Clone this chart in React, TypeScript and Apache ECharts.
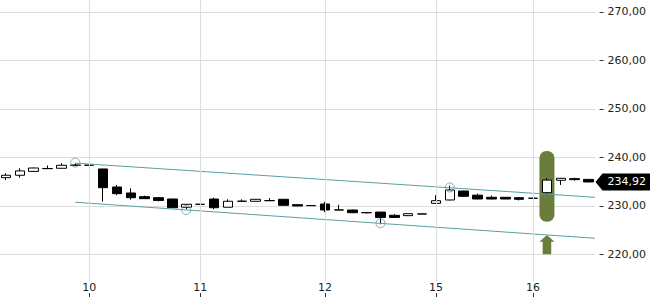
import React, { useEffect, useRef } from "react";
import * as echarts from "echarts";

const categories = [
  "09 12:00", "09 13:00", "09 14:00", "09 15:00", "09 16:00", "09 17:00",
  "10 09:00", "10 10:00", "10 11:00", "10 12:00", "10 13:00", "10 14:00", "10 15:00", "10 16:00",
  "11 09:00", "11 10:00", "11 11:00", "11 12:00", "11 13:00", "11 14:00", "11 15:00", "11 16:00", "11 17:00",
  "12 09:00", "12 10:00", "12 11:00", "12 12:00", "12 13:00", "12 14:00", "12 15:00", "12 16:00",
  "15 09:00", "15 10:00", "15 11:00", "15 12:00", "15 13:00", "15 14:00", "15 15:00",
  "16 09:00", "16 10:00", "16 11:00", "16 12:00", "16 13:00",
];

const opens = [235.8, 236.3, 237.1, 237.66, 237.74, 238.36, 238.36, 237.6, 233.88, 232.64, 231.88, 231.67, 231.4, 229.7, 230.3, 231.4, 229.7, 230.93, 230.93, 231.05, 231.34, 230.23, 230.03, 230.37, 229.13, 229.13, 228.57, 228.7, 228.04, 227.96, 228.3, 230.5, 231.2, 233.05, 232.2, 231.75, 231.75, 231.67, 231.55, 232.7, 235.26, 235.6, 235.45];
const closes = [236.3, 237.2, 237.8, 237.7, 238.36, 238.4, 238.38, 233.74, 232.5, 231.67, 231.47, 231.1, 229.6, 230.31, 230.32, 229.6, 230.93, 230.95, 231.34, 231.07, 230.1, 229.96, 230.05, 229.13, 229.15, 228.57, 228.59, 227.6, 227.6, 228.37, 228.32, 231.05, 233.26, 231.96, 231.4, 231.4, 231.4, 231.34, 231.57, 235.3, 235.67, 235.4, 234.92];
const lows = [235.3, 235.8, 237.0, 237.6, 237.7, 238.3, 238.3, 230.85, 232.2, 231.26, 231.4, 230.9, 229.5, 229.3, 230.28, 229.3, 229.7, 230.9, 230.9, 231.0, 230.05, 229.9, 230.0, 228.7, 229.1, 228.5, 228.4, 226.2, 227.55, 227.9, 228.28, 230.45, 231.1, 231.9, 231.35, 231.35, 231.35, 231.1, 231.5, 232.35, 234.3, 235.2, 234.85];
const highs = [236.7, 237.74, 237.9, 238.3, 238.8, 238.8, 238.42, 237.6, 234.3, 233.6, 232.1, 231.8, 231.45, 230.35, 230.35, 231.67, 231.34, 231.34, 231.4, 231.6, 231.4, 230.3, 230.08, 230.8, 230.23, 229.2, 228.7, 228.75, 228.3, 228.4, 228.35, 232.17, 234.15, 233.1, 232.5, 232.1, 231.8, 231.7, 231.6, 235.7, 235.75, 235.8, 235.5];

const upperTrend = [[5, 238.8], [42.46, 231.75]];
const lowerTrend = [[5, 230.73], [42.46, 223.3]];
const touchPoints = [[5, 238.92], [13, 229.14], [27, 226.4], [32, 233.78]];

// highlight: [index, rectTop, rectBottom, arrowTip, arrowHeadBase, arrowBottom]
const highlight = [[39, 241.3, 226.7, 223.97, 222.6, 220.0]];

const yMin = 210;
const yMax = 280;
const yStep = 10;
const gridTopValue = 280;
const gridBottomValue = 214.33;

const TEAL = "#5c9fa1";
const OLIVE = "#6a7d3a";
const GRID = "#dddddd";
const FONT = "DejaVu Sans";

const dayOf = (c: string) => c.slice(0, 2);
const isDayStart = (i: number) => i > 0 && dayOf(categories[i]) !== dayOf(categories[i - 1]);
const fmt = (v: number) => v.toFixed(2).replace(".", ",");

export default function App() {
  const ref = useRef<HTMLDivElement>(null);
  useEffect(() => {
    document.body.style.margin = "0";
    if (!ref.current) return;
    const chart = echarts.init(ref.current, undefined, { renderer: "svg" });
    const dayStarts = categories.map((_, i) => i).filter(isDayStart);
    const lastClose = closes[closes.length - 1];
    const n = categories.length;

    chart.setOption({
      animation: false,
      textStyle: { fontFamily: FONT },
      grid: {
        left: -1,
        right: 54.5,
        top: -36.5,
        bottom: -2.7,
        containLabel: false,
        outerBoundsMode: "none",
      },
      xAxis: [
        {
          type: "category",
          data: categories,
          boundaryGap: true,
          offset: -5.7,
          axisLine: { show: false, onZero: false },
          axisTick: {
            show: true,
            inside: true,
            length: 4,
            alignWithLabel: true,
            interval: (i: number) => isDayStart(i),
            lineStyle: { color: "#333", width: 1 },
          },
          axisLabel: {
            inside: true,
            margin: 4,
            interval: (i: number) => isDayStart(i),
            formatter: (v: string) => String(parseInt(dayOf(v), 10)),
            color: "#222",
            fontSize: 11,
            fontFamily: FONT,
          },
          splitLine: { show: false },
        },
        {
          type: "value",
          min: -0.5,
          max: n - 0.5,
          show: false,
          axisLine: { onZero: false },
        },
      ],
      yAxis: {
        type: "value",
        position: "right",
        min: yMin,
        max: yMax,
        interval: yStep,
        offset: 4,
        axisLine: { show: false, onZero: false },
        axisTick: { show: true, length: 4, lineStyle: { color: "#333", width: 1 } },
        axisLabel: {
          margin: 8,
          color: "#222",
          fontSize: 11,
          fontFamily: FONT,
          showMinLabel: false,
          showMaxLabel: false,
          formatter: (v: number) => fmt(v),
        },
        splitLine: { show: true, lineStyle: { color: GRID, width: 1 } },
      },
      series: [
        {
          type: "line",
          xAxisIndex: 0,
          data: [],
          z: 1,
          silent: true,
          markLine: {
            silent: true,
            symbol: ["none", "none"],
            label: { show: false },
            lineStyle: { color: GRID, width: 1, type: "solid" },
            data: dayStarts.map((i) => [
              { coord: [categories[i], gridTopValue] },
              { coord: [categories[i], gridBottomValue] },
            ]),
          },
        },
        {
          type: "custom",
          xAxisIndex: 1,
          z: 2,
          silent: true,
          data: highlight,
          renderItem: (_p: any, api: any) => {
            const x = api.value(0);
            const top = api.coord([x, api.value(1)]);
            const bot = api.coord([x, api.value(2)]);
            const tip = api.coord([x, api.value(3)]);
            const base = api.coord([x, api.value(4)]);
            const end = api.coord([x, api.value(5)]);
            const cx = top[0];
            return {
              type: "group",
              children: [
                {
                  type: "rect",
                  shape: { x: cx - 7.5, y: top[1], width: 15, height: bot[1] - top[1], r: 7 },
                  style: { fill: OLIVE },
                },
                {
                  type: "polygon",
                  shape: {
                    points: [
                      [cx, tip[1]],
                      [cx + 7.5, base[1]],
                      [cx + 4.3, base[1]],
                      [cx + 4.3, end[1]],
                      [cx - 4.3, end[1]],
                      [cx - 4.3, base[1]],
                      [cx - 7.5, base[1]],
                    ],
                  },
                  style: { fill: OLIVE },
                },
              ],
            };
          },
        },
        {
          type: "candlestick",
          xAxisIndex: 0,
          z: 3,
          barWidth: 10,
          data: opens.map((o, i) => [o, closes[i], lows[i], highs[i]]),
          itemStyle: {
            color: "#ffffff",
            color0: "#000000",
            borderColor: "#000000",
            borderColor0: "#000000",
            borderWidth: 1,
          },
        },
        {
          type: "line",
          xAxisIndex: 1,
          z: 4,
          data: upperTrend,
          symbol: "none",
          lineStyle: { color: TEAL, width: 1 },
        },
        {
          type: "line",
          xAxisIndex: 1,
          z: 4,
          data: lowerTrend,
          symbol: "none",
          lineStyle: { color: TEAL, width: 1 },
        },
        {
          type: "scatter",
          xAxisIndex: 1,
          z: 5,
          data: touchPoints,
          symbol: "circle",
          symbolSize: 9,
          itemStyle: { color: "rgba(0,0,0,0)", borderColor: TEAL, borderWidth: 1 },
        },
        {
          type: "custom",
          xAxisIndex: 1,
          z: 10,
          silent: true,
          clip: false,
          data: [[n - 0.5, lastClose]],
          renderItem: (_p: any, api: any) => {
            const p = api.coord([api.value(0), api.value(1)]);
            const w = api.getWidth();
            const x = p[0];
            const y = p[1];
            return {
              type: "group",
              children: [
                {
                  type: "polygon",
                  shape: {
                    points: [
                      [x, y],
                      [x + 7, y - 8.5],
                      [w, y - 8.5],
                      [w, y + 8.5],
                      [x + 7, y + 8.5],
                    ],
                  },
                  style: { fill: "#000" },
                },
                {
                  type: "text",
                  style: {
                    x: x + 12,
                    y: y,
                    text: fmt(api.value(1)),
                    fill: "#fff",
                    fontSize: 11,
                    fontFamily: FONT,
                    verticalAlign: "middle",
                    align: "left",
                  },
                },
              ],
            };
          },
        },
      ],
    });
    return () => chart.dispose();
  }, []);
  return <div ref={ref} style={{ width: 650, height: 300 }} />;
}
